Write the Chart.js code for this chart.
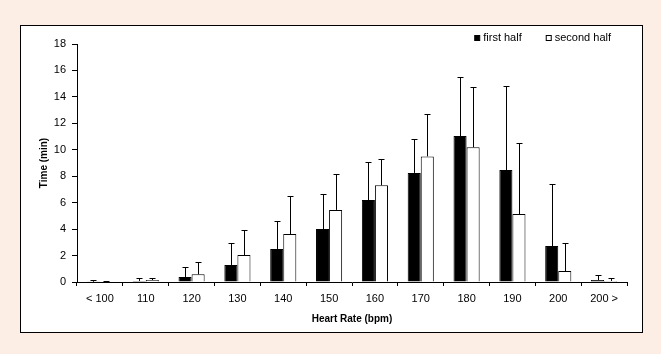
<!DOCTYPE html>
<html>
<head>
<meta charset="utf-8">
<script src="https://cdn.jsdelivr.net/npm/chart.js@4"></script>
<style>
  html, body { margin: 0; padding: 0; background: #fdeee5; }
  #frame { position: absolute; left: 20px; top: 25px; width: 623px; height: 308px;
           box-sizing: border-box; border: 1px solid #000; background: #fff; }
  #chart { position: absolute; left: 0; top: 0; }
</style>
</head>
<body>
<div id="frame"></div>
<canvas id="chart" width="661" height="354"></canvas>
<script>
// heart rate zones (bpm)
const categories = ["< 100", "110", "120", "130", "140", "150", "160", "170", "180", "190", "200", "200 >"];
// mean time (min) per zone
const firstHalf  = [0.02, 0.08, 0.38, 1.29, 2.5, 4.0, 6.2, 8.25, 11.04, 8.47, 2.72, 0.15];
const secondHalf = [0.03, 0.15, 0.58, 2.04, 3.63, 5.45, 7.31, 9.5, 10.19, 5.14, 0.83, 0.08];
// standard deviations (upper error bar)
const firstHalfSD  = [0.1, 0.2, 0.72, 1.64, 2.1, 2.63, 2.88, 2.55, 4.46, 6.36, 4.67, 0.35];
const secondHalfSD = [0.03, 0.13, 0.96, 1.86, 2.85, 2.7, 1.97, 3.18, 4.54, 5.35, 2.1, 0.2];
const yTicks = [0, 2, 4, 6, 8, 10, 12, 14, 16, 18];

const FONT = "'Liberation Sans', Arial, sans-serif";
Chart.defaults.font.family = FONT;
Chart.defaults.font.size = 11;
Chart.defaults.color = '#000';

// upward-only error bars with a small cap
const errorBars = {
  id: 'errorBars',
  afterDatasetsDraw(chart) {
    const ctx = chart.ctx, y = chart.scales.y;
    ctx.save();
    ctx.strokeStyle = '#000';
    ctx.lineWidth = 1;
    chart.data.datasets.forEach((ds, i) => {
      const meta = chart.getDatasetMeta(i);
      meta.data.forEach((bar, j) => {
        const x = Math.round(bar.x) + 0.5;
        const yBase = y.getPixelForValue(ds.data[j]);
        const yTop = Math.round(y.getPixelForValue(ds.data[j] + ds.sd[j])) + 0.5;
        ctx.beginPath();
        ctx.moveTo(x, yBase);
        ctx.lineTo(x, yTop);
        ctx.moveTo(x - 3, yTop);
        ctx.lineTo(x + 3, yTop);
        ctx.stroke();
      });
    });
    ctx.restore();
  }
};

// legend in the top right corner like the original
const cornerLegend = {
  id: 'cornerLegend',
  afterDraw(chart) {
    const ctx = chart.ctx;
    ctx.save();
    ctx.font = '11px ' + FONT;
    ctx.textBaseline = 'middle';
    ctx.fillStyle = '#000';
    const right = 611, cy = 38, box = 6, gap = 3, spacing = 24;
    const items = chart.data.datasets.map(ds => ({ text: ds.label, fill: ds.backgroundColor, w: ctx.measureText(ds.label).width }));
    let x = right - items.reduce((s, it) => s + box + gap + it.w, 0) - spacing * (items.length - 1);
    items.forEach(it => {
      ctx.fillStyle = it.fill;
      ctx.fillRect(x + 0.5, cy - 3 + 0.5, box - 1, box - 1);
      ctx.strokeStyle = '#000';
      ctx.strokeRect(x + 0.5, cy - 3 + 0.5, box - 1, box - 1);
      ctx.fillStyle = '#000';
      ctx.fillText(it.text, x + box + gap, cy);
      x += box + gap + it.w + spacing;
    });
    ctx.restore();
  }
};

new Chart(document.getElementById('chart'), {
  type: 'bar',
  data: {
    labels: categories,
    datasets: [
      { label: 'first half', data: firstHalf, sd: firstHalfSD,
        backgroundColor: '#000', borderColor: '#000', borderWidth: 1,
        barPercentage: 1, categoryPercentage: 0.57 },
      { label: 'second half', data: secondHalf, sd: secondHalfSD,
        backgroundColor: '#fff', borderColor: '#000', borderWidth: 1,
        barPercentage: 1, categoryPercentage: 0.57 }
    ]
  },
  options: {
    responsive: false,
    animation: false,
    layout: { padding: { left: 20, right: 34, top: 44, bottom: 22 } },
    plugins: { legend: { display: false }, tooltip: { enabled: false } },
    scales: {
      x: {
        grid: { display: true, drawOnChartArea: false, tickLength: 4, color: '#000' },
        border: { color: '#000' },
        ticks: { padding: 6, maxRotation: 0, autoSkip: false },
        title: { display: true, text: 'Heart Rate (bpm)', font: { weight: 'bold', size: 10 }, padding: { top: 4, bottom: 7 } },
        afterFit(s) { s.height = 50; }
      },
      y: {
        min: 0, max: 18,
        afterBuildTicks(s) { s.ticks = yTicks.map(v => ({ value: v })); },
        grid: { display: true, drawOnChartArea: false, tickLength: 5, color: '#000' },
        border: { color: '#000' },
        ticks: { padding: 6 },
        title: { display: true, text: 'Time (min)', font: { weight: 'bold', size: 10 }, padding: { top: 18, bottom: 4 } },
        afterFit(s) { s.width = 57; }
      }
    }
  },
  plugins: [errorBars, cornerLegend]
});
</script>
</body>
</html>
